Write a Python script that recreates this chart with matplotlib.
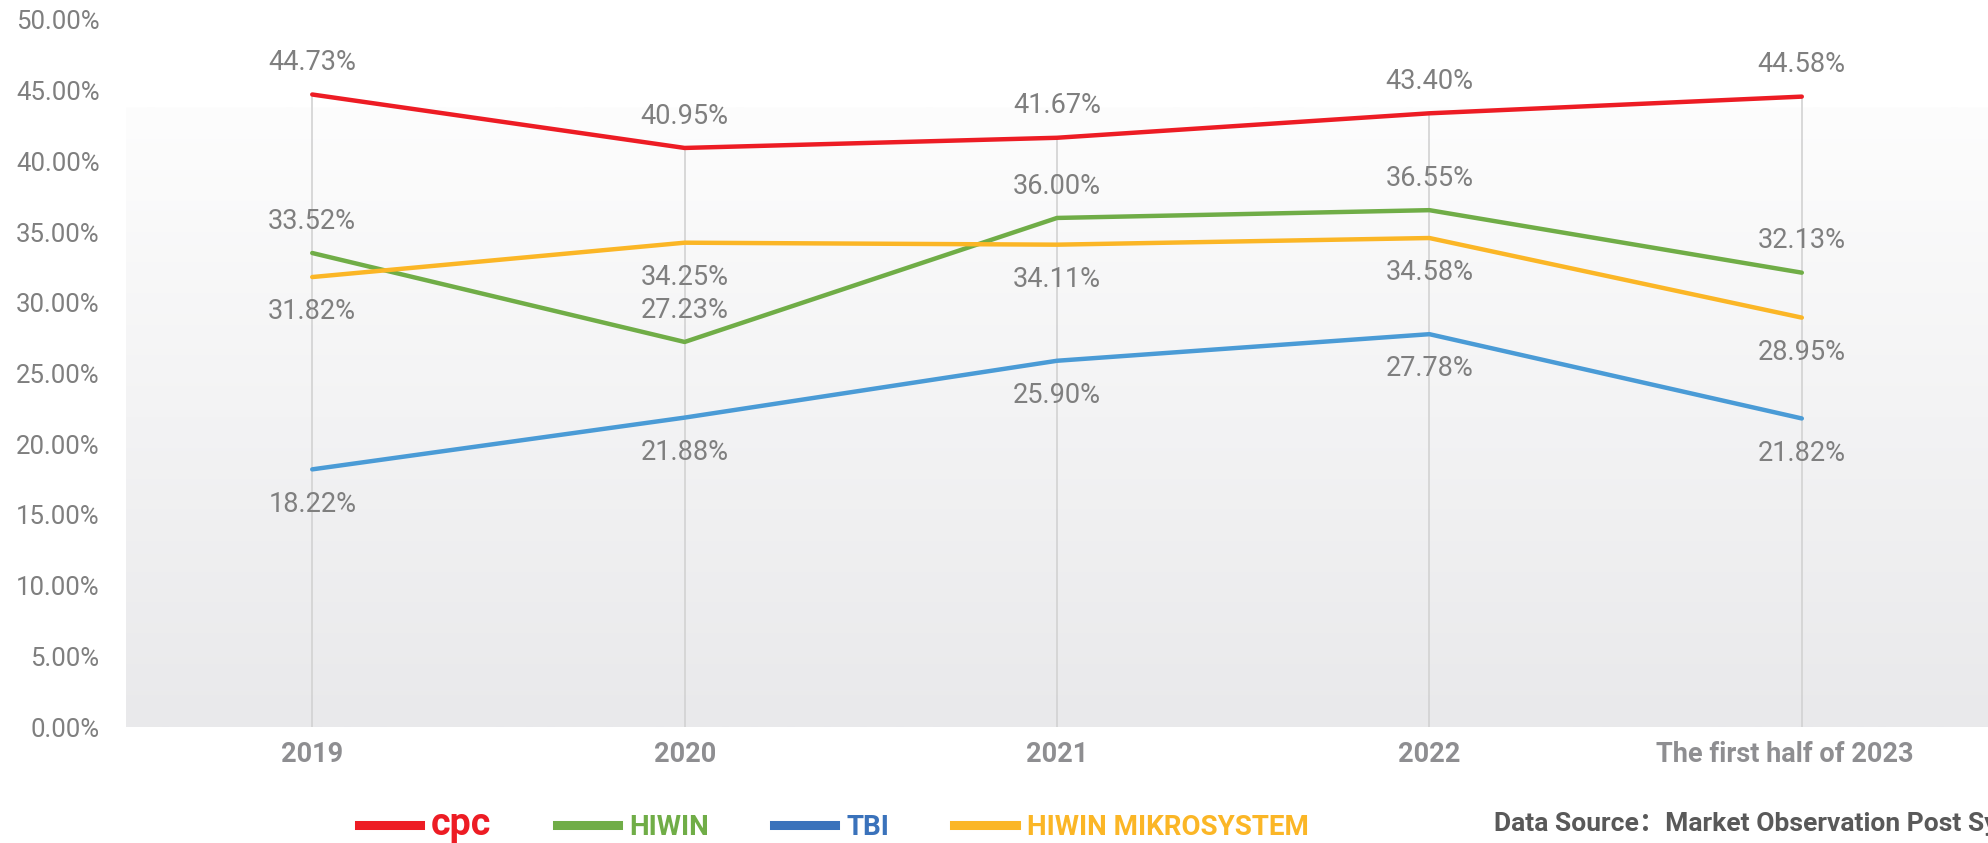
"""Market share line chart: cpc vs HIWIN vs TBI vs HIWIN MIKROSYSTEM."""

import matplotlib

matplotlib.use("Agg")
import matplotlib.pyplot as plt
import matplotlib.transforms as mtransforms
import numpy as np
from matplotlib.colors import LinearSegmentedColormap
from matplotlib.lines import Line2D

periods = ["2019", "2020", "2021", "2022", "The first half of 2023"]
cpc = [44.73, 40.95, 41.67, 43.40, 44.58]
hiwin = [33.52, 27.23, 36.00, 36.55, 32.13]
tbi = [18.22, 21.88, 25.90, 27.78, 21.82]
mikro = [31.82, 34.25, 34.11, 34.58, 28.95]

# name, values, line colour, legend colour, label above?
SERIES = [
    ("cpc", cpc, "#ed1c24", "#ed1c24", True),
    ("HIWIN", hiwin, "#70ad47", "#70ad47", True),
    ("TBI", tbi, "#4a9bd6", "#3a72bb", False),
    ("HIWIN MIKROSYSTEM", mikro, "#fbb626", "#fbb626", False),
]

LABEL_GRAY = "#7f7f7f"
FONT = "Roboto"

fig = plt.figure(figsize=(19.88, 8.43), dpi=100)
ax = fig.add_axes([0.0634, 0.1376, 0.9366, 0.8387])
x = np.arange(len(periods))

# plot-area gradient (light grey at bottom fading to white)
grad = np.linspace(0, 1, 256).reshape(-1, 1)
cmap = LinearSegmentedColormap.from_list("bg", ["#e9e9eb", "#fdfdfd"])
ax.imshow(grad, cmap=cmap, origin="lower", aspect="auto",
          extent=[-0.5, 4.5, 0, 43.8], zorder=0)

# drop lines
tops = np.max([cpc, hiwin, tbi, mikro], axis=0)
ax.vlines(x, 0, tops, color="#d2d2d2", linewidth=1.2, zorder=1)

for name, vals, color, _, above in SERIES:
    ax.plot(x, vals, color=color, linewidth=3.2, solid_capstyle="round", zorder=3)
    for xi, v in zip(x, vals):
        ax.annotate(f"{v:.2f}%", (xi, v), xytext=(0, 23 if above else -25),
                    textcoords="offset points", ha="center", va="center",
                    fontsize=19.5, color=LABEL_GRAY, family=FONT, zorder=4)

ax.set_xlim(-0.5, 4.5)
ax.set_ylim(0, 50)
ax.set_yticks(np.arange(0, 50.1, 5))
ax.set_yticklabels([f"{t:.2f}%" for t in np.arange(0, 50.1, 5)],
                   fontsize=18.5, color=LABEL_GRAY, family=FONT)
ax.set_xticks(x)
ax.set_xticklabels(periods, fontsize=19.5, fontweight="bold", color="#8e8e91",
                   family=FONT)
ax.tick_params(axis="y", length=0, pad=19)
ax.tick_params(axis="x", length=0, pad=10)
for s in ax.spines.values():
    s.set_visible(False)

# last category label sits a little left of its tick, as in the original
last = ax.get_xticklabels()[-1]
last.set_transform(last.get_transform()
                   + mtransforms.ScaledTranslation(-0.17, 0, fig.dpi_scale_trans))

handles = [Line2D([], [], color=lc, linewidth=6.5) for _, _, _, lc, _ in SERIES]
leg = fig.legend(handles, [s[0] for s in SERIES], loc="center left",
                 bbox_to_anchor=(0.168, 0.022), ncol=4, frameon=False,
                 handlelength=2.2, handletextpad=0.4, columnspacing=2.35,
                 prop={"family": FONT, "weight": "bold", "size": 20})
for txt, (_, _, _, lc, _) in zip(leg.get_texts(), SERIES):
    txt.set_color(lc)
leg.get_texts()[0].set_fontsize(27)

fig.text(0.7515, 0.0225, "Data Source\uff1aMarket Observation Post System",
         ha="left", va="center", fontsize=19, fontweight="bold",
         color="#595959", family=[FONT, "Noto Sans CJK SC"])

fig.savefig("out.png", dpi=100)
